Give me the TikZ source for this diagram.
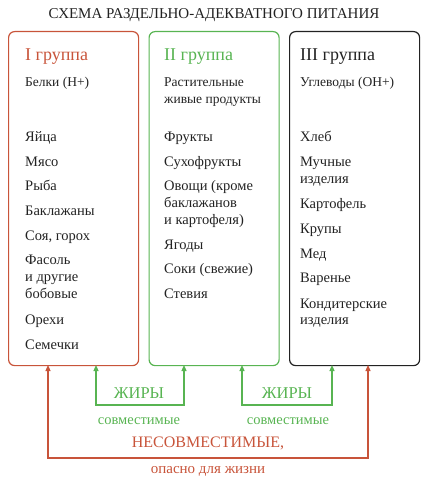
\documentclass[tikz,border=0pt]{standalone}
\usepackage{fontspec}
\setmainfont{Liberation Serif}
\usetikzlibrary{arrows.meta}
\definecolor{cred}{RGB}{200,84,58}
\definecolor{cgreen}{RGB}{88,180,82}
\definecolor{cdark}{RGB}{34,34,34}
\begin{document}
\begin{tikzpicture}[x=1pt,y=-1pt,
  box/.style={draw, line width=1.2pt, rounded corners=6pt, minimum width=130pt, minimum height=334pt, anchor=north west, inner sep=0pt},
  txt/.style={inner sep=0pt, anchor=base west, text=cdark},
  item/.style={txt, font=\fontsize{14.5}{17}\selectfont},
  sub/.style={txt, font=\fontsize{13.5}{17}\selectfont},
  head/.style={inner sep=0pt, anchor=base west, font=\fontsize{18}{20}\selectfont},
  lbl/.style={inner sep=0pt, anchor=base},
  conn/.style={line width=1.2pt, {Triangle[length=6pt,width=5pt]}-{Triangle[length=6pt,width=5pt]}}
]
\useasboundingbox (0,0) rectangle (428,484);
\node[lbl, text=cdark, font=\fontsize{15}{17}\selectfont] (title) at (214,19) {СХЕМА РАЗДЕЛЬНО-АДЕКВАТНОГО ПИТАНИЯ};

\node[box, draw=cred] (g1) at (8,31) {};
\node[box, draw=cgreen] (g2) at (148.5,31) {};
\node[box, draw=cdark] (g3) at (289,31) {};

% group 1
\node[head, text=cred] (h1) at (25,61) {I группа};
\node[sub] (s1) at (25,87) {Белки (H+)};
\node[item] (a1) at (25,141) {Яйца};
\node[item] (a2) at (25,166) {Мясо};
\node[item] (a3) at (25,190) {Рыба};
\node[item] (a4) at (25,215) {Баклажаны};
\node[item] (a5) at (25,240) {Соя, горох};
\node[item] (a6) at (25,264) {Фасоль};
\node[item] (a7) at (25,281) {и другие};
\node[item] (a8) at (25,298) {бобовые};
\node[item] (a9) at (25,324) {Орехи};
\node[item] (a10) at (25,349) {Семечки};

% group 2
\node[head, text=cgreen] (h2) at (164,61) {II группа};
\node[sub] (s2a) at (164,87) {Растительные};
\node[sub] (s2b) at (164,104) {живые продукты};
\node[item] (b1) at (164,141) {Фрукты};
\node[item] (b2) at (164,166) {Сухофрукты};
\node[item] (b3) at (164,190) {Овощи (кроме};
\node[item] (b4) at (164,207) {баклажанов};
\node[item] (b5) at (164,224) {и картофеля)};
\node[item] (b6) at (164,249) {Ягоды};
\node[item] (b7) at (164,273) {Соки (свежие)};
\node[item] (b8) at (164,298) {Стевия};

% group 3
\node[head, text=cdark] (h3) at (300,61) {III группа};
\node[sub] (s3) at (300,87) {Углеводы (OH+)};
\node[item] (c1) at (300,141) {Хлеб};
\node[item] (c2) at (300,166) {Мучные};
\node[item] (c3) at (300,183) {изделия};
\node[item] (c4) at (300,208) {Картофель};
\node[item] (c5) at (300,233) {Крупы};
\node[item] (c6) at (300,258) {Мед};
\node[item] (c7) at (300,282) {Варенье};
\node[item] (c8) at (300,308) {Кондитерские};
\node[item] (c9) at (300,324) {изделия};

% connector end points
\coordinate (r1) at (48,365);
\coordinate (r2) at (368,365);
\coordinate (gA1) at (96,365);
\coordinate (gA2) at (184,365);
\coordinate (gB1) at (242,365);
\coordinate (gB2) at (332,365);

\draw[conn, draw=cred] (r1) -- (r1 |- 0,458) -| (r2);
\draw[conn, draw=cgreen] (gA1) -- (gA1 |- 0,405) -| (gA2);
\draw[conn, draw=cgreen] (gB1) -- (gB1 |- 0,405) -| (gB2);

\node[lbl, text=cgreen, font=\fontsize{16.5}{18}\selectfont] (f1) at (139,398) {ЖИРЫ};
\node[lbl, text=cgreen, font=\fontsize{16.5}{18}\selectfont] (f2) at (287,398) {ЖИРЫ};
\node[lbl, text=cgreen, font=\fontsize{14.5}{17}\selectfont] (k1) at (139,424) {совместимые};
\node[lbl, text=cgreen, font=\fontsize{14.5}{17}\selectfont] (k2) at (288,424) {совместимые};
\node[lbl, text=cred, font=\fontsize{16}{18}\selectfont] (n1) at (208,447) {НЕСОВМЕСТИМЫЕ,};
\node[lbl, text=cred, font=\fontsize{15}{17}\selectfont] (n2) at (208,473) {опасно для жизни};
\end{tikzpicture}
\end{document}
